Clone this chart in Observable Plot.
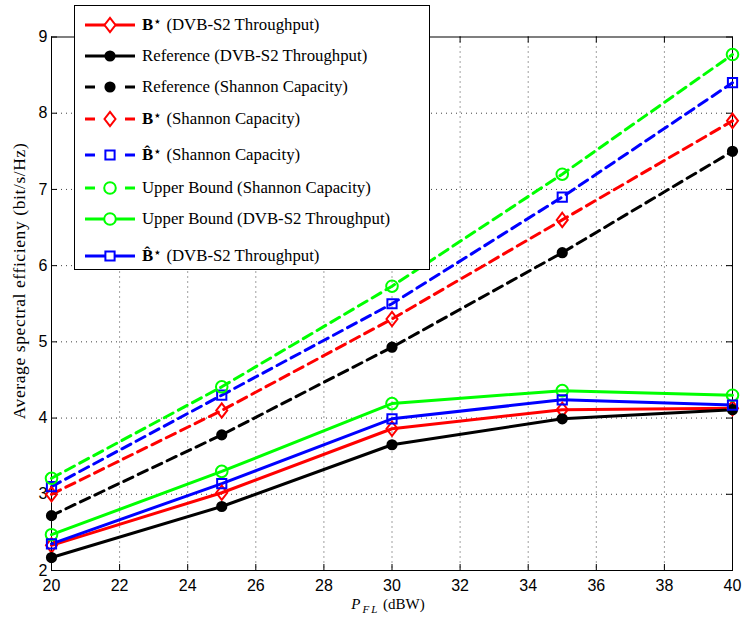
<!DOCTYPE html>
<html>
<head>
<meta charset="utf-8">
<script src="https://cdn.jsdelivr.net/npm/d3@7"></script>
<script src="https://cdn.jsdelivr.net/npm/@observablehq/plot@0.6"></script>
<style>
  html, body { margin: 0; padding: 0; background: #fff; }
  #wrap { position: relative; width: 743px; height: 621px; }
  .lbl { position: absolute; font-family: "Liberation Serif", "Times New Roman", serif; color: #000; white-space: nowrap; line-height: 1; }
  #legend { position: absolute; left: 74px; top: 5px; width: 356px; height: 265px; background: #fff; border: 1px solid #000; box-sizing: border-box; }
  .entry { position: absolute; left: 0; height: 24px; }
  .entry svg { position: absolute; left: 0; top: 0; }
  .entry span { position: absolute; left: 67px; top: 2px; font-family: "Liberation Serif", "Times New Roman", serif; font-size: 16.8px; white-space: nowrap; line-height: 20px; }
  sup { font-size: 14px; vertical-align: 4px; line-height: 0; }
</style>
</head>
<body>
<div id="wrap"></div>
<script>
// ---- data ----
const pfl = [20, 25, 30, 35, 40];
const bStarTput    = [2.33, 3.02, 3.86, 4.11, 4.13];
const refTput      = [2.17, 2.84, 3.65, 3.99, 4.11];
const refShannon   = [2.72, 3.78, 4.93, 6.17, 7.50];
const bStarShannon = [3.00, 4.10, 5.30, 6.60, 7.90];
const bHatShannon  = [3.10, 4.30, 5.50, 6.90, 8.40];
const ubShannon    = [3.21, 4.41, 5.73, 7.20, 8.77];
const ubTput       = [2.47, 3.30, 4.19, 4.36, 4.30];
const bHatTput     = [2.35, 3.14, 3.99, 4.24, 4.17];
const xTicks = [20, 22, 24, 26, 28, 30, 32, 34, 36, 38, 40];
const yTicks = [2, 3, 4, 5, 6, 7, 8, 9];

const series = [
  {key: "bStarTput",    html: "<b>B</b><sup>⋆</sup> (DVB-S2 Throughput)",        values: bStarTput,    color: "#ff0000", dashed: false, symbol: "diamond", filled: false, r: 5.5},
  {key: "refTput",      html: "Reference (DVB-S2 Throughput)",                     values: refTput,      color: "#000000", dashed: false, symbol: "circle",  filled: true,  r: 4.6},
  {key: "refShannon",   html: "Reference (Shannon Capacity)",                      values: refShannon,   color: "#000000", dashed: true,  symbol: "circle",  filled: true,  r: 4.6},
  {key: "bStarShannon", html: "<b>B</b><sup>⋆</sup> (Shannon Capacity)",           values: bStarShannon, color: "#ff0000", dashed: true,  symbol: "diamond", filled: false, r: 5.5},
  {key: "bHatShannon",  html: "<b>B&#770;</b><sup>⋆</sup> (Shannon Capacity)",     values: bHatShannon,  color: "#0000ff", dashed: true,  symbol: "square",  filled: false, r: 5.2},
  {key: "ubShannon",    html: "Upper Bound (Shannon Capacity)",                    values: ubShannon,    color: "#00ff00", dashed: true,  symbol: "circle",  filled: false, r: 5.8},
  {key: "ubTput",       html: "Upper Bound (DVB-S2 Throughput)",                   values: ubTput,       color: "#00ff00", dashed: false, symbol: "circle",  filled: false, r: 5.8},
  {key: "bHatTput",     html: "<b>B&#770;</b><sup>⋆</sup> (DVB-S2 Throughput)",    values: bHatTput,     color: "#0000ff", dashed: false, symbol: "square",  filled: false, r: 5.2}
];
const legendY = [19, 50, 81, 113, 149, 182, 213, 250];

// MATLAB-like diamond (less elongated than d3's)
const matDiamond = {
  draw(ctx, size) {
    const r = Math.sqrt(size / Math.PI);
    const w = r * 1.0, h = r * 1.3;
    ctx.moveTo(0, -h); ctx.lineTo(w, 0); ctx.lineTo(0, h); ctx.lineTo(-w, 0); ctx.closePath();
  }
};
const symbolOf = s => s === "diamond" ? matDiamond : s;

const rows = series.flatMap(s => pfl.map((x, i) => ({x, y: s.values[i], key: s.key})));

const kx = 6 / ((743 - 51 - 11) / 20);   // inward tick length in x units
const ky = 6 / ((621 - 36.5 - 51) / 7);  // inward tick length in y units

const marks = [
  Plot.gridX(xTicks.slice(1, -1), {stroke: "#000", strokeOpacity: 0.75, strokeDasharray: "1,4", strokeWidth: 1}),
  Plot.gridY(yTicks.slice(1, -1), {stroke: "#000", strokeOpacity: 0.75, strokeDasharray: "1,4", strokeWidth: 1}),
  Plot.ruleX(xTicks, {x: d => d, y1: 2, y2: 2 + ky, stroke: "#000"}),
  Plot.ruleX(xTicks, {x: d => d, y1: 9 - ky, y2: 9, stroke: "#000"}),
  Plot.ruleY(yTicks, {y: d => d, x1: 20, x2: 20 + kx, stroke: "#000"}),
  Plot.ruleY(yTicks, {y: d => d, x1: 40 - kx, x2: 40, stroke: "#000"}),
  Plot.frame({stroke: "#000", strokeWidth: 1}),
  Plot.axisX(xTicks, {tickSize: 0, tickPadding: 9, label: null, fontSize: 16, tickFormat: d => String(d)}),
  Plot.axisY(yTicks, {tickSize: 0, tickPadding: 4, label: null, fontSize: 16, tickFormat: d => String(d)})
];
for (const s of series) {
  const data = rows.filter(d => d.key === s.key);
  marks.push(Plot.line(data, {x: "x", y: "y", stroke: s.color, strokeWidth: 3, strokeDasharray: s.dashed ? "10,6" : null}));
}
for (const s of series) {
  const data = rows.filter(d => d.key === s.key);
  marks.push(Plot.dot(data, {x: "x", y: "y", r: s.r, symbol: symbolOf(s.symbol), stroke: s.color, strokeWidth: 2,
    fill: s.filled ? s.color : "none"}));
}

const chart = Plot.plot({
  width: 743, height: 621,
  marginLeft: 51, marginRight: 11, marginTop: 36.5, marginBottom: 51,
  x: {domain: [20, 40]},
  y: {domain: [2, 9]},
  style: {fontFamily: "'Liberation Sans', Arial, sans-serif", fontSize: "16px", color: "#000", background: "#fff", overflow: "visible"},
  marks
});

const wrap = document.getElementById("wrap");
wrap.appendChild(chart);

// axis labels
const xl = document.createElement("div");
xl.className = "lbl";
xl.style.cssText = "left:0;width:776px;top:597px;text-align:center;font-size:15px;";
xl.innerHTML = "<i>P</i><sub style='font-size:11px;line-height:0;letter-spacing:2px;margin-left:2px'><i>FL</i></sub> (dBW)";
wrap.appendChild(xl);

const yl = document.createElement("div");
yl.className = "lbl";
yl.style.cssText = "left:20px;top:281px;font-size:17.5px;letter-spacing:0.6px;transform:translate(-50%,-50%) rotate(-90deg);";
yl.textContent = "Average spectral efficieny (bit/s/Hz)";
wrap.appendChild(yl);

// legend
const leg = document.createElement("div");
leg.id = "legend";
wrap.appendChild(leg);
const symPath = (sym, r) => {
  const t = {circle: d3.symbolCircle, diamond: matDiamond, square: d3.symbolSquare}[sym];
  return d3.symbol(t, Math.PI * r * r)();
};
series.forEach((s, i) => {
  const e = document.createElement("div");
  e.className = "entry";
  e.style.top = (legendY[i] - 12) + "px";
  e.innerHTML = `<svg width="66" height="24"><line x1="10" x2="60" y1="12" y2="12" stroke="${s.color}" stroke-width="3" ${s.dashed ? 'stroke-dasharray="10,30"' : ''}/>` +
    `<path transform="translate(35,12)" d="${symPath(s.symbol, s.r)}" stroke="${s.color}" stroke-width="2" fill="${s.filled ? s.color : '#fff'}"/></svg>` +
    `<span>${s.html}</span>`;
  leg.appendChild(e);
});
</script>
</body>
</html>
